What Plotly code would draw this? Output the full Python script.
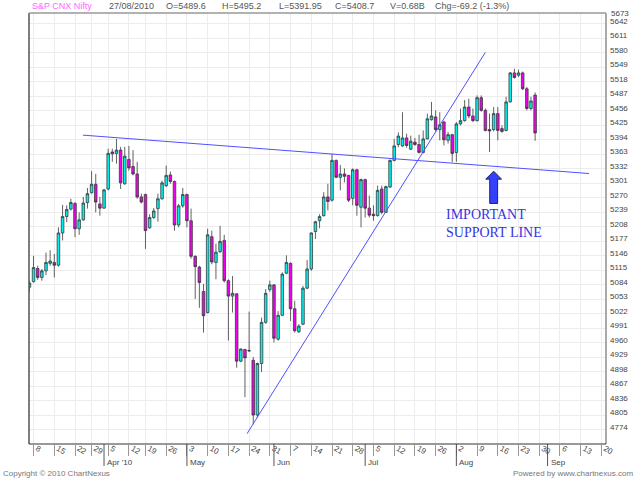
import pandas as pd
import plotly.graph_objects as go

# NSE trading days from 5 Mar 2010; exchange holidays skipped
holidays = ["2010-03-24", "2010-04-02", "2010-04-14"]
days = [d for d in pd.bdate_range("2010-03-05", "2010-09-21")
        if d.strftime("%Y-%m-%d") not in holidays]

# daily OHLC, 5 Mar 2010 .. 27 Aug 2010
opens = [5079, 5091, 5119, 5100, 5114, 5130, 5132, 5126, 5195, 5230,
         5246, 5258, 5204, 5223, 5260, 5281, 5299, 5257, 5248, 5289,
         5368, 5365, 5372, 5300, 5352, 5337, 5321, 5272, 5277, 5206,
         5228, 5247, 5268, 5296, 5319, 5305, 5212, 5253, 5277, 5221,
         5145, 5122, 5070, 5025, 5187, 5132, 5155, 5179, 5093, 5060,
         5065, 4921, 4946, 4944, 4923, 4806, 4916, 5004, 5074, 5084,
         4968, 5019, 5109, 5130, 5033, 4984, 5000, 5077, 5118, 5198,
         5221, 5232, 5272, 5265, 5350, 5314, 5321, 5318, 5269, 5330,
         5250, 5309, 5248, 5235, 5232, 5289, 5239, 5293, 5350, 5384,
         5381, 5398, 5374, 5389, 5384, 5367, 5396, 5437, 5443, 5416,
         5432, 5393, 5405, 5367, 5428, 5435, 5464, 5445, 5435, 5484,
         5457, 5416, 5416, 5450, 5418, 5414, 5475, 5537, 5532, 5537,
         5503, 5461, 5489.6]
highs = [5093, 5146, 5125, 5118, 5153, 5158, 5150, 5207, 5255, 5254,
         5268, 5261, 5239, 5272, 5291, 5327, 5321, 5272, 5289, 5375,
         5375, 5396, 5379, 5379, 5381, 5372, 5347, 5279, 5279, 5235,
         5248, 5279, 5307, 5339, 5326, 5307, 5257, 5291, 5279, 5247,
         5147, 5125, 5086, 5204, 5200, 5172, 5210, 5191, 5096, 5103,
         5065, 4948, 4947, 5027, 4930, 4918, 5014, 5075, 5093, 5086,
         5028, 5111, 5147, 5132, 5050, 5000, 5082, 5137, 5196, 5221,
         5235, 5282, 5300, 5364, 5352, 5340, 5333, 5319, 5333, 5332,
         5311, 5311, 5275, 5254, 5296, 5296, 5296, 5352, 5396, 5410,
         5453, 5407, 5403, 5398, 5405, 5414, 5450, 5475, 5457, 5453,
         5435, 5411, 5407, 5432, 5461, 5479, 5482, 5461, 5489, 5489,
         5461, 5450, 5464, 5464, 5425, 5486, 5539, 5546, 5544, 5540,
         5507, 5486, 5495.2]
lows = [5068, 5089, 5095, 5093, 5105, 5125, 5100, 5123, 5179, 5218,
        5243, 5186, 5191, 5221, 5247, 5279, 5239, 5232, 5247, 5286,
        5347, 5343, 5289, 5298, 5328, 5318, 5268, 5258, 5161, 5204,
        5225, 5219, 5266, 5293, 5300, 5200, 5207, 5249, 5207, 5140,
        5054, 5035, 4982, 5023, 5128, 5096, 5152, 5089, 4965, 5025,
        4907, 4919, 4844, 4941, 4786, 4800, 4898, 5001, 5069, 4961,
        4965, 5018, 5107, 5007, 4982, 4981, 4998, 5075, 5114, 5182,
        5205, 5230, 5243, 5262, 5312, 5286, 5303, 5261, 5254, 5232,
        5207, 5228, 5228, 5221, 5230, 5235, 5238, 5291, 5348, 5378,
        5379, 5377, 5372, 5381, 5365, 5365, 5395, 5435, 5412, 5393,
        5382, 5386, 5346, 5347, 5425, 5433, 5440, 5432, 5433, 5454,
        5412, 5368, 5412, 5393, 5409, 5412, 5474, 5525, 5528, 5500,
        5457, 5457, 5391.95]
closes = [5088, 5121, 5100, 5114, 5132, 5135, 5126, 5195, 5230, 5245,
          5260, 5204, 5223, 5259, 5279, 5299, 5261, 5248, 5287, 5365,
          5364, 5372, 5302, 5359, 5334, 5321, 5272, 5261, 5200, 5228,
          5242, 5268, 5302, 5318, 5305, 5212, 5253, 5277, 5221, 5145,
          5123, 5089, 5018, 5191, 5133, 5154, 5177, 5093, 5060, 5066,
          4921, 4947, 4928, 4943, 4806, 4916, 5004, 5066, 5084, 4970,
          5019, 5107, 5132, 5033, 4986, 4996, 5077, 5118, 5195, 5219,
          5230, 5272, 5262, 5350, 5314, 5321, 5316, 5265, 5330, 5254,
          5309, 5248, 5233, 5232, 5286, 5239, 5294, 5350, 5381, 5402,
          5398, 5382, 5391, 5384, 5367, 5396, 5439, 5445, 5416, 5426,
          5394, 5405, 5365, 5428, 5435, 5464, 5445, 5435, 5484, 5457,
          5414, 5413, 5450, 5414, 5412, 5475, 5537, 5527, 5537, 5503,
          5461, 5477, 5408.7]

header = ["S&P CNX Nifty", "27/08/2010", "O=5489.6", "H=5495.2",
          "L=5391.95", "C=5408.7", "V=0.68B", "Chg=-69.2 (-1.3%)"]
month_labels = ["Apr '10", "May", "Jun", "Jul", "Aug", "Sep"]

# hand drawn trend lines / arrow (day index, price)
support_line = [(12.9, 5404), (135.0, 5322)]
rising_line = [(52.5, 4766), (110.0, 5581)]
note_lines = ["IMPORTANT", "SUPPORT LINE"]

# plot box in pixels
L, R, T, B = 29, 609, 13, 444
W, H = 640, 480


def px_x(px):
    return (px - L) / (R - L)


def px_y(py):
    return (B - py) / (B - T)


x = list(range(len(closes)))

week_idx = [i for i, d in enumerate(days) if d.weekday() == 0]
week_txt = [str(days[i].day) for i in week_idx]
month_idx = [i for i in range(1, len(days)) if days[i].month != days[i - 1].month]

fig = go.Figure()
fig.add_trace(go.Candlestick(
    x=x, open=opens, high=highs, low=lows, close=closes,
    increasing=dict(fillcolor='#00F0F0', line=dict(color='#3a3a3a', width=0.8)),
    decreasing=dict(fillcolor='#F000F0', line=dict(color='#3a3a3a', width=0.8)),
    showlegend=False, hoverinfo='skip',
))

blue = 'rgb(80,80,255)'
shapes = []
for (x0, y0), (x1, y1) in [support_line, rising_line]:
    shapes.append(dict(type='line', xref='x', yref='y', x0=x0, y0=y0, x1=x1, y1=y1,
                       line=dict(color=blue, width=1)))

# fat up arrow under the support line
xc, tip, base, bottom, hw, sw = 112.0, 5327, 5310, 5258, 1.9, 0.95
shapes.append(dict(
    type='path', xref='x', yref='y',
    path=(f"M {xc} {tip} L {xc + hw} {base} L {xc + sw} {base} L {xc + sw} {bottom} "
          f"L {xc - sw} {bottom} L {xc - sw} {base} L {xc - hw} {base} Z"),
    fillcolor='#3340FF', line=dict(color='#222266', width=1),
))

# month ticks (longer, reaching the second label row)
for m in month_idx:
    shapes.append(dict(type='line', xref='x', yref='paper', x0=m, x1=m,
                       y0=0, y1=px_y(466), line=dict(color='#555', width=1)))

# frame
shapes += [
    dict(type='line', xref='paper', yref='paper', x0=0, x1=0, y0=0, y1=1,
         line=dict(color='#555', width=1.5)),
    dict(type='line', xref='paper', yref='paper', x0=0, x1=1, y0=1, y1=1,
         line=dict(color='#999', width=1.5)),
    dict(type='line', xref='paper', yref='paper', x0=1, x1=1, y0=0, y1=1,
         line=dict(color='#AAA', width=2)),
    dict(type='line', xref='paper', yref='paper', x0=0, x1=1, y0=0, y1=0,
         line=dict(color='#333', width=1)),
]

small = dict(family='Liberation Sans, Arial, sans-serif', size=8, color='#444')
annotations = []

header_x = [30, 107, 165, 221, 278, 335, 390, 435]
for i, (txt, hx) in enumerate(zip(header, header_x)):
    annotations.append(dict(
        text=txt, xref='paper', yref='paper', x=px_x(hx), y=px_y(6),
        xanchor='left', yanchor='middle', showarrow=False,
        font=dict(family='Liberation Sans, Arial, sans-serif', size=9,
                  color='#FF66FF' if i == 0 else '#555'),
    ))

for m, lab in zip(month_idx, month_labels):
    annotations.append(dict(
        text=lab, xref='x', yref='paper', x=m, y=px_y(462.5), xshift=1,
        xanchor='left', yanchor='middle', showarrow=False, font=small,
    ))

# top price label sits just above the plotted range
annotations.append(dict(
    text='5673', xref='paper', yref='paper', x=1, y=px_y(13), xshift=3,
    xanchor='left', yanchor='middle', showarrow=False, font=small,
))

for txt, yv in zip(note_lines, [5235, 5196]):
    annotations.append(dict(
        text=txt, xref='x', yref='y', x=100.1, y=yv, xanchor='left',
        yanchor='middle', showarrow=False,
        font=dict(family='Liberation Serif, Times New Roman, serif', size=14,
                  color='#3535E0'),
    ))

annotations.append(dict(
    text='Copyright © 2010 ChartNexus', xref='paper', yref='paper',
    x=px_x(1), y=px_y(473.5), xanchor='left', yanchor='middle',
    showarrow=False, font=dict(small, color='#777'),
))
annotations.append(dict(
    text='Powered by www.chartnexus.com', xref='paper', yref='paper',
    x=px_x(638), y=px_y(473.5), xanchor='right', yanchor='middle',
    showarrow=False, font=dict(small, color='#777'),
))

fig.update_layout(
    width=W, height=H,
    margin=dict(l=L, r=W - R, t=T, b=H - B),
    paper_bgcolor='white', plot_bgcolor='white',
    showlegend=False, boxgap=0.12,
    shapes=shapes, annotations=annotations,
    xaxis=dict(
        range=[-0.1, 139.1], rangeslider=dict(visible=False),
        tickmode='array', tickvals=week_idx, ticktext=week_txt,
        ticks='outside', ticklen=11, tickcolor='#999', tickwidth=1,
        ticklabelposition='outside right', ticklabelshift=3, ticklabelstandoff=-4,
        tickfont=small,
        showgrid=True, gridcolor='#ECECEC', gridwidth=1,
        zeroline=False, showline=False, fixedrange=True,
    ),
    yaxis=dict(
        range=[4744, 5665], side='right',
        tickmode='linear', tick0=4774, dtick=31,
        ticks='', tickfont=small, ticklabelshift=-3, ticklabelstandoff=3,
        showgrid=True, gridcolor='#ECECEC', gridwidth=1,
        zeroline=False, showline=False, fixedrange=True,
    ),
)

# the page body has a default margin; pin the chart to the window corner
fig.write_html(
    "out.html",
    config={'displayModeBar': False},
    post_script="document.body.style.margin='0px';document.body.style.overflow='hidden';",
)
